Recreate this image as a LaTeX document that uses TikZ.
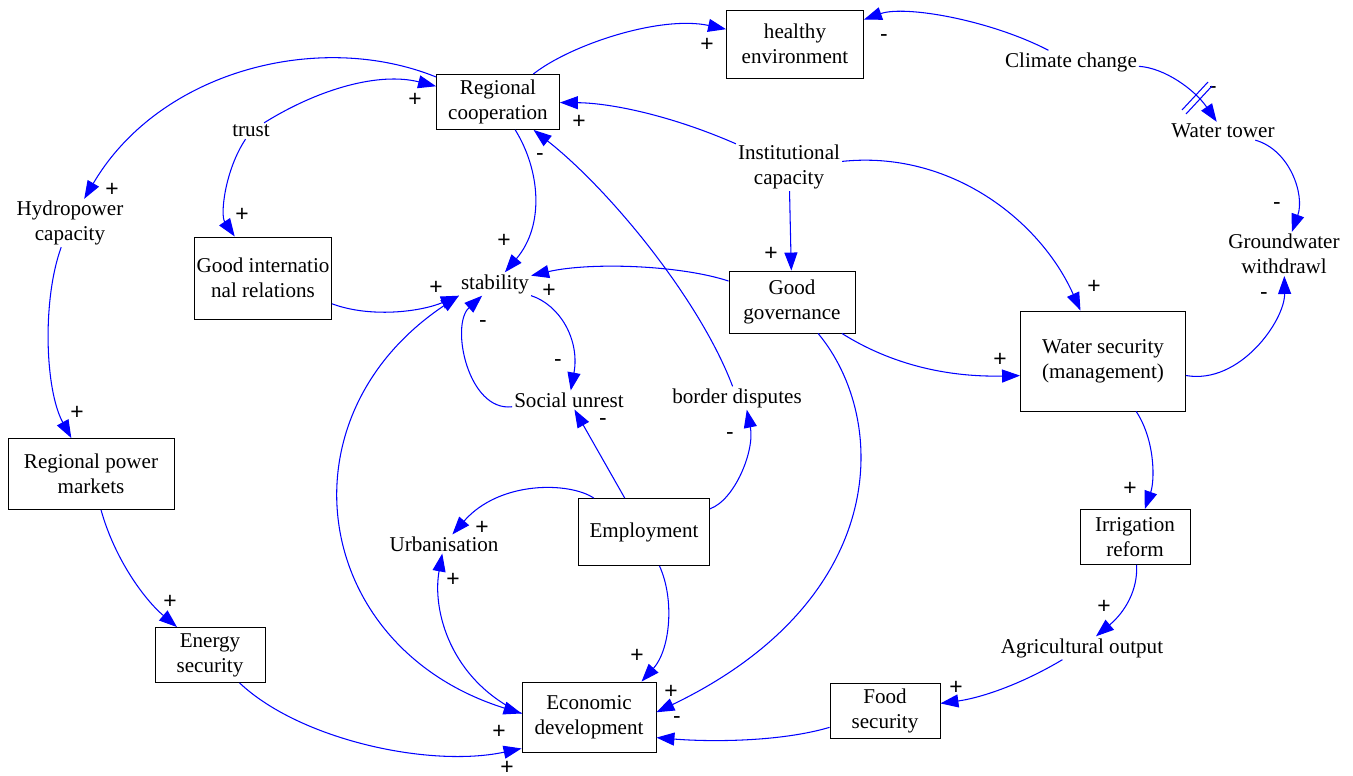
\documentclass[tikz,border=0pt]{standalone}
\usepackage{fontspec}
\setmainfont{Liberation Serif}
\setsansfont{Liberation Sans}
\usetikzlibrary{arrows.meta}

\begin{document}
\begin{tikzpicture}[x=0.02cm, y=-0.02cm,
	>={Triangle[length=0.36cm,width=0.26cm]},
	font=\fontsize{12}{14.2}\selectfont,
	every node/.style={align=center, inner sep=1pt},
	box/.style={draw, line width=0.5pt, inner sep=0pt},
	link/.style={->, blue, line width=0.6pt},
	sign/.style={inner sep=0pt, text=black, font=\sffamily\fontsize{13}{15}\selectfont}]
		\useasboundingbox (0,0) rectangle (1353,776);

		\draw
		node[box, minimum width=2.74cm, minimum height=1.36cm] at (795,44) (he) {healthy\\environment}
		node at (1071,62) (cc) {Climate change}
		node at (1223,131) (wt) {Water tower}
		node at (1284,254) (gw) {Groundwater\\withdrawl}
		node[box, minimum width=2.46cm, minimum height=1.10cm] at (498,102) (rc) {Regional\\cooperation}
		node at (251,131) (trust) {trust}
		node at (789,167) (ic) {Institutional\\capacity}
		node at (70,223) (hp) {Hydropower\\capacity}
		node[box, minimum width=2.74cm, minimum height=1.64cm] at (263,278) (gir) {Good internatio\\nal relations}
		node at (495,284) (stab) {stability}
		node[box, minimum width=2.52cm, minimum height=1.24cm] at (792,302) (gg) {Good\\governance}
		node[box, minimum width=3.30cm, minimum height=2.00cm] at (1103,361) (ws) {Water security\\(management)}
		node at (569,400) (su) {Social unrest}
		node at (737,398) (bd) {border disputes}
		node[box, minimum width=3.32cm, minimum height=1.42cm] at (91,474) (rpm) {Regional power\\markets}
		node[box, minimum width=2.62cm, minimum height=1.34cm] at (644,532) (emp) {Employment}
		node at (444,544) (urb) {Urbanisation}
		node[box, minimum width=2.20cm, minimum height=1.10cm] at (1135,537) (ir) {Irrigation\\reform}
		node at (1082,648) (ao) {Agricultural output}
		node[box, minimum width=2.20cm, minimum height=1.10cm] at (210,655) (es) {Energy\\security}
		node[box, minimum width=2.68cm, minimum height=1.40cm] at (589,717) (ed) {Economic\\development}
		node[box, minimum width=2.20cm, minimum height=1.10cm] at (885,711) (fs) {Food\\security};

		% top and right
		\draw[link] (rc) .. controls (570,45) and (660,15) .. (he) node[sign] at (707,45) {+};
		\draw[link] (cc) .. controls (990,20) and (905,5) .. (he) node[sign] at (884,38) {-};
		\draw[link] (cc) .. controls (1165,68) and (1195,90) .. (wt) node[sign] at (1213,90) {-};
		\draw[blue, line width=0.6pt] (1182,110) -- (1208,82) (1186,114) -- (1212,86);
		\draw[link] (wt) .. controls (1290,150) and (1305,195) .. (gw) node[sign] at (1277,206) {-};
		\draw[link] (ws) .. controls (1240,385) and (1285,320) .. (gw) node[sign] at (1264,296) {-};
		\draw[link] (rc) .. controls (320,30) and (160,70) .. (hp) node[sign] at (112,190) {+};
		\draw[link] (trust) .. controls (320,88) and (380,72) .. (rc) node[sign] at (415,100) {+};
		\draw[link] (trust) .. controls (225,170) and (220,215) .. (gir) node[sign] at (242,215) {+};
		\draw[link] (ic) .. controls (670,115) and (610,103) .. (rc) node[sign] at (579,122) {+};
		\draw[link] (ic) -- (gg) node[sign] at (771,254) {+};
		\draw[link] (ic) .. controls (950,150) and (1040,220) .. (ws) node[sign] at (1094,287) {+};

		% around stability
		\draw[link] (rc) .. controls (540,170) and (545,225) .. (stab) node[sign] at (504,241) {+};
		\draw[link] (bd) .. controls (700,300) and (610,190) .. (rc) node[sign] at (540,157) {-};
		\draw[link] (gir) .. controls (370,318) and (420,312) .. (stab.south west) node[sign] at (436,288) {+};
		\draw[link] (gg) .. controls (680,265) and (590,262) .. (stab) node[sign] at (549,291) {+};
		\draw[link] (stab) .. controls (560,305) and (580,340) .. (su) node[sign] at (558,363) {-};
		\draw[link] (su) .. controls (468,412) and (450,325) .. (stab) node[sign] at (483,324) {-};
		\draw[link, <->] (stab.south west) .. controls (276,418) and (312,648) .. (ed.177) node[sign] at (499,732) {+};

		% employment and economic development
		\draw[link] (emp) -- (su) node[sign] at (603,422) {-};
		\draw[link] (emp) .. controls (735,500) and (755,450) .. (bd.-50) node[sign] at (730,436) {-};
		\draw[link] (emp) .. controls (570,482) and (500,480) .. (urb) node[sign] at (482,528) {+};
		\draw[link] (emp) .. controls (675,600) and (670,650) .. (ed.34) node[sign] at (637,656) {+};
		\draw[link] (ed.177) .. controls (450,680) and (432,610) .. (urb) node[sign] at (453,580) {+};
		\draw[link] (gg) .. controls (890,420) and (890,600) .. (ed.4) node[sign] at (671,692) {+};
		\draw[link] (fs) .. controls (780,742) and (710,742) .. (ed.-17) node[sign] at (677,720) {-};
		\draw[link] (es) .. controls (300,740) and (430,768) .. (ed.205) node[sign] at (507,768) {+};

		% water chain
		\draw[link] (gg) .. controls (900,370) and (960,377) .. (ws.190) node[sign] at (1000,360) {+};
		\draw[link] (ws) .. controls (1155,440) and (1155,480) .. (ir) node[sign] at (1130,489) {+};
		\draw[link] (ir) .. controls (1138,590) and (1125,612) .. (ao) node[sign] at (1104,607) {+};
		\draw[link] (ao) .. controls (1020,685) and (980,698) .. (fs) node[sign] at (956,688) {+};

		% power chain
		\draw[link] (hp) .. controls (42,300) and (45,390) .. (rpm) node[sign] at (77,413) {+};
		\draw[link] (rpm) .. controls (115,560) and (145,600) .. (es) node[sign] at (170,602) {+};
\end{tikzpicture}
\end{document}
